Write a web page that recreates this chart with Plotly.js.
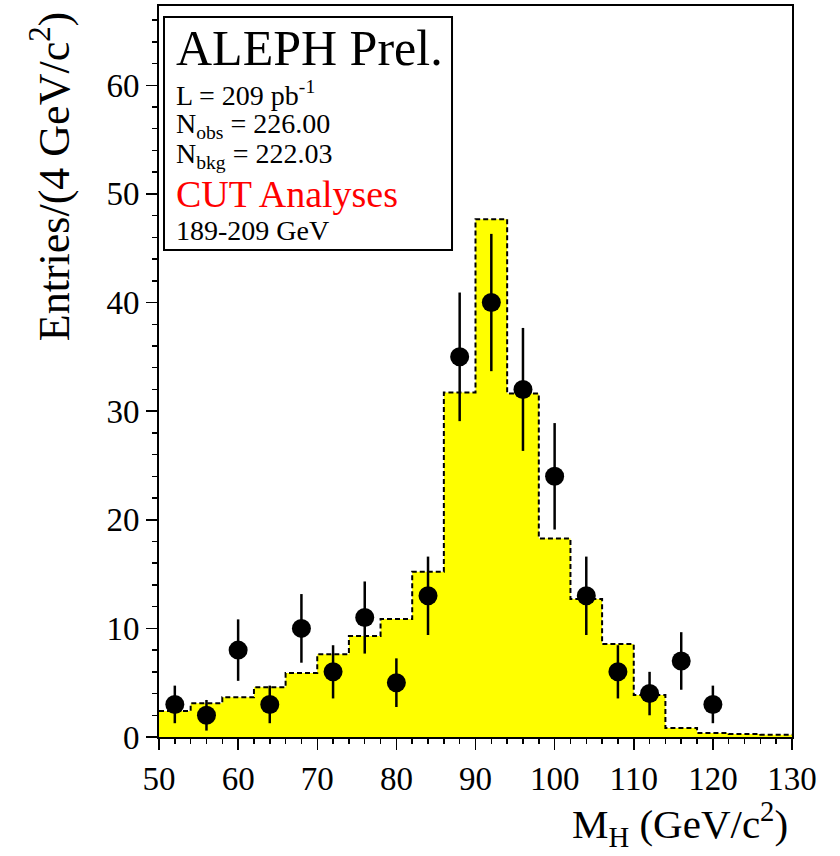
<!DOCTYPE html>
<html>
<head>
<meta charset="utf-8">
<script src="https://cdn.plot.ly/plotly-3.0.1.min.js"></script>
<style>html,body{margin:0;padding:0;background:#fff;}#chart{width:840px;height:856px;}</style>
</head>
<body>
<div id="chart"></div>
<script>
// Background histogram (4 GeV bins from 50 to 130)
const binEdges = [50,54,58,62,66,70,74,78,82,86,90,94,98,102,106,110,114,118,122,126,130];
const background = [2.39,3.10,3.65,4.57,5.89,7.61,9.29,10.86,15.21,31.72,47.67,31.63,18.28,12.70,8.56,3.86,0.83,0.37,0.28,0.21];
// Observed data
const massPoints = [52,56,60,64,68,72,76,80,84,88,92,96,100,104,108,112,116,120];
const observed = [3,2,8,3,10,6,11,5,13,35,40,32,24,13,6,4,7,3];
const observedErr = [1.73,1.41,2.83,1.73,3.16,2.45,3.32,2.24,3.61,5.92,6.32,5.66,4.90,3.61,2.45,2.00,2.65,1.73];
// Axis ticks
const xTicks = [50,60,70,80,90,100,110,120,130];
const yTicks = [0,10,20,30,40,50,60];

const serif = '"Liberation Serif", "Times New Roman", serif';

const histY = background.concat([background[background.length-1]]);

const traces = [
  {
    type: 'scatter', mode: 'lines', x: binEdges, y: histY,
    line: {shape: 'hv', color: 'black', width: 2, dash: '5px,3px'},
    fill: 'tozeroy', fillcolor: '#ffff00', hoverinfo: 'skip'
  },
  {
    type: 'scatter', mode: 'markers', x: massPoints, y: observed,
    marker: {size: 19, color: 'black'},
    error_y: {type: 'data', array: observedErr, visible: true, color: 'black', thickness: 2.5, width: 0}
  }
];

const axisCommon = {
  showgrid: false, zeroline: false, showline: true, linewidth: 2, linecolor: 'black', mirror: true,
  ticks: 'outside', ticklen: 11, tickwidth: 1.5, tickcolor: 'black',
  tickfont: {family: serif, size: 33, color: 'black'},
  minor: {ticks: 'outside', ticklen: 5, tickwidth: 1.5, tickcolor: 'black', dtick: 2, showgrid: false}
};

const layout = {
  width: 840, height: 856,
  margin: {l: 159, r: 48, t: 6, b: 119},
  paper_bgcolor: 'white', plot_bgcolor: 'white',
  showlegend: false,
  font: {family: serif, color: 'black'},
  xaxis: Object.assign({}, axisCommon, {range: [50, 130], tickvals: xTicks, ticktext: xTicks.map(String)}),
  yaxis: Object.assign({}, axisCommon, {range: [0, 67.3], tickvals: yTicks, ticktext: yTicks.map(String)}),
  shapes: [
    {type: 'rect', xref: 'paper', yref: 'paper', x0: 0.0079, x1: 0.4629, y0: 0.6662, y1: 0.985,
     line: {color: 'black', width: 2}, fillcolor: 'white', layer: 'above'}
  ],
  annotations: [
    {text: 'Entries/(4 GeV/c<sup>2</sup>)', xref: 'paper', yref: 'paper', x: -0.172, y: 0.766,
     xanchor: 'center', yanchor: 'middle', textangle: -90, showarrow: false, font: {family: serif, size: 44, color: 'black'}},
    {text: 'M<sub>H</sub> (GeV/c<sup>2</sup>)', xref: 'paper', yref: 'paper', x: 0.997, y: -0.119,
     xanchor: 'right', yanchor: 'middle', showarrow: false, font: {family: serif, size: 41, color: 'black'}},
    {text: 'ALEPH Prel.', xref: 'paper', yref: 'paper', x: 0.0237, y: 0.942,
     xanchor: 'left', yanchor: 'middle', showarrow: false, font: {family: serif, size: 50, color: 'black'}},
    {text: 'L = 209 pb<sup>-1</sup>', xref: 'paper', yref: 'paper', x: 0.0237, y: 0.880,
     xanchor: 'left', yanchor: 'middle', showarrow: false, font: {family: serif, size: 28, color: 'black'}},
    {text: 'N<sub>obs</sub> = 226.00', xref: 'paper', yref: 'paper', x: 0.0237, y: 0.836,
     xanchor: 'left', yanchor: 'middle', showarrow: false, font: {family: serif, size: 28, color: 'black'}},
    {text: 'N<sub>bkg</sub> = 222.03', xref: 'paper', yref: 'paper', x: 0.0237, y: 0.795,
     xanchor: 'left', yanchor: 'middle', showarrow: false, font: {family: serif, size: 28, color: 'black'}},
    {text: 'CUT Analyses', xref: 'paper', yref: 'paper', x: 0.0237, y: 0.743,
     xanchor: 'left', yanchor: 'middle', showarrow: false, font: {family: serif, size: 38, color: 'red'}},
    {text: '189-209 GeV', xref: 'paper', yref: 'paper', x: 0.0237, y: 0.693,
     xanchor: 'left', yanchor: 'middle', showarrow: false, font: {family: serif, size: 28, color: 'black'}}
  ]
};

Plotly.newPlot('chart', traces, layout, {staticPlot: true, displayModeBar: false});
</script>
</body>
</html>
